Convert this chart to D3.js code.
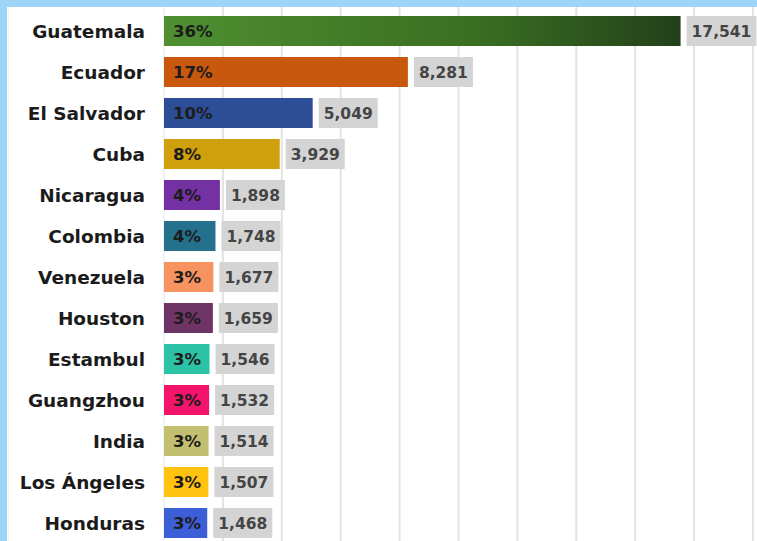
<!DOCTYPE html>
<html><head><meta charset="utf-8">
<script src="https://cdn.jsdelivr.net/npm/d3@7"></script>
<style>html,body{margin:0;padding:0;background:#9dd5f8;}svg{display:block;}</style>
</head><body><svg id="c" width="757" height="541"></svg>
<script>
const categories = ["Guatemala","Ecuador","El Salvador","Cuba","Nicaragua","Colombia","Venezuela","Houston","Estambul","Guangzhou","India","Los Ángeles","Honduras"];
const values = [17541,8281,5049,3929,1898,1748,1677,1659,1546,1532,1514,1507,1468];
const shares = ["36%","17%","10%","8%","4%","4%","3%","3%","3%","3%","3%","3%","3%"];
const colors = ["url(#gGuat)","#c9580f","#2d4e97","#cf9f0c","#7331a3","#23718c","#f79360","#6f3466","#2cc2a6","#f2156b","#c2c070","#ffc20f","#3c5fd8"];
const gridTicks = [0,2000,4000,6000,8000,10000,12000,14000,16000,18000,20000];

const svg = d3.select("#c");
const defs = svg.append("defs");
const lg = defs.append("linearGradient").attr("id","gGuat").attr("x1","0%").attr("x2","100%");
lg.append("stop").attr("offset","0%").attr("stop-color","#4f8f31");
lg.append("stop").attr("offset","60%").attr("stop-color","#3a6f22");
lg.append("stop").attr("offset","100%").attr("stop-color","#23401a");

svg.append("rect").attr("x",7).attr("y",7).attr("width",750).attr("height",534).attr("fill","#ffffff");
svg.append("line").attr("x1",8.5).attr("x2",8.5).attr("y1",7).attr("y2",541).attr("stroke","#eef3f7").attr("stroke-width",1);

const x = d3.scaleLinear().domain([0,20000]).range([164,753]);
const y = d3.scaleBand().domain(categories).range([10.5,543.5]).paddingInner(0.268).paddingOuter(0.134);

svg.append("g").selectAll("line").data(gridTicks.slice(1)).join("line")
  .attr("x1",d=>x(d)).attr("x2",d=>x(d)).attr("y1",7).attr("y2",541)
  .attr("stroke","#e3e3e3").attr("stroke-width",2);
svg.append("line").attr("x1",x(0)).attr("x2",x(0)).attr("y1",7).attr("y2",541)
  .attr("stroke","#dde6ee").attr("stroke-width",1);

const font = "'DejaVu Sans', sans-serif";
const rows = svg.append("g").selectAll("g").data(categories).join("g");

rows.append("rect").attr("x",x(0)).attr("y",d=>y(d))
  .attr("width",(d,i)=>x(values[i])-x(0)).attr("height",y.bandwidth())
  .attr("fill",(d,i)=>colors[i]);

rows.append("text").attr("x",145).attr("y",d=>y(d)+y.bandwidth()/2).attr("dy","0.36em")
  .attr("text-anchor","end").attr("font-family",font).attr("font-weight",700)
  .attr("font-size",18.5).attr("fill","#1b1b1b").text(d=>d);

rows.append("text").attr("x",x(0)+9).attr("y",d=>y(d)+y.bandwidth()/2).attr("dy","0.36em")
  .attr("font-family",font).attr("font-weight",700).attr("font-size",16.5)
  .attr("fill","#1c1c1c").text((d,i)=>shares[i]);

rows.each(function(d,i){
  const g = d3.select(this);
  const bx = x(values[i]) + 6;
  const box = g.append("rect").attr("x",bx).attr("y",y(d)).attr("height",y.bandwidth()).attr("fill","#d4d4d4");
  const t = g.append("text").attr("x",bx+5).attr("y",y(d)+y.bandwidth()/2).attr("dy","0.36em")
    .attr("font-family",font).attr("font-weight",700).attr("font-size",15.5).attr("fill","#454545")
    .text(d3.format(",")(values[i]));
  box.attr("width", t.node().getComputedTextLength()+10);
});
</script></body></html>
